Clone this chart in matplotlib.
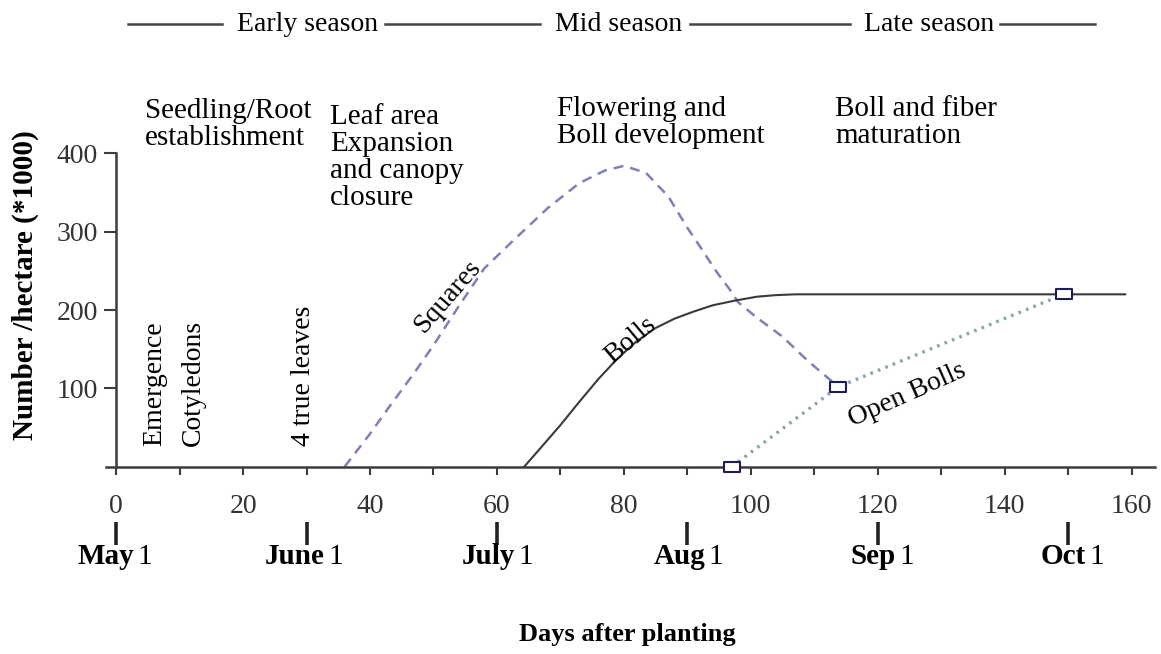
import matplotlib
matplotlib.use('Agg')
import matplotlib.pyplot as plt
import numpy as np
from matplotlib.path import Path

plt.rcParams['font.family'] = ['Liberation Serif', 'DejaVu Serif']

# ---------------- data ----------------
square_days = [36, 40, 43, 47, 50, 54, 58, 63, 68, 73, 77, 80, 83.5, 87, 90, 92, 94.5, 96.7, 98, 101, 105, 109, 113.8]
square_vals = [0, 42, 76, 120, 155, 205, 253, 292, 330, 362, 378, 384, 375, 345, 305, 281, 250, 226, 210, 190, 166, 135, 102]

boll_days = [64.3, 67, 70, 73, 76, 79, 82, 85, 88, 91, 94, 97.5, 101, 104, 107, 159]
boll_vals = [0, 25, 53, 83, 112, 138, 160, 177, 189, 198, 206, 212, 217, 219, 220, 220]

open_days = [97, 113.8, 149.3]
open_vals = [0, 102, 220]

x_ticks = [0, 20, 40, 60, 80, 100, 120, 140, 160]
y_ticks = [100, 200, 300, 400]

month_days = [0, 30, 60, 90, 120, 150]
month_names = ['May', 'June', 'July', 'Aug', 'Sep', 'Oct']

seasons = ['Early season', 'Mid season', 'Late season']

# -----------------------------------------------------------
fig = plt.figure(figsize=(11.61, 6.54), dpi=100)
ax = fig.add_axes([106 / 1161, (654 - 466.7) / 654, 1049 / 1161, 313.4 / 654])
ax.set_xlim(-1.6, 163.7)
ax.set_ylim(0, 400)

axis_col = '#3c3c3c'
for s in ['top', 'right']:
    ax.spines[s].set_visible(False)
ax.spines['left'].set_position(('data', 0))
ax.spines['left'].set_color(axis_col)
ax.spines['bottom'].set_color(axis_col)
ax.spines['left'].set_linewidth(1.8)
ax.spines['bottom'].set_linewidth(1.8)

ax.set_xticks(x_ticks)
ax.set_xticks(np.arange(10, 161, 20), minor=True)
ax.set_yticks(y_ticks)
ax.tick_params(axis='x', which='both', direction='out', length=6, width=1.5,
               color=axis_col, pad=14, labelsize=20)
ax.tick_params(axis='y', direction='out', length=9, width=1.5,
               color=axis_col, pad=4, labelsize=20)
for lab in ax.get_xticklabels() + ax.get_yticklabels():
    lab.set_color('#333333')

# curves
ax.plot(square_days, square_vals, color='#7f80b8', lw=1.8, linestyle=(0, (4, 2.8)), clip_on=False)
ax.plot(boll_days, boll_vals, color='#3a3a3a', lw=1.5, clip_on=False)
ax.plot(open_days, open_vals, color='#86a8a2', lw=2.4, linestyle=(0, (0.8, 1.6)), clip_on=False)

rect = Path([(-1.5, -1), (1.5, -1), (1.5, 1), (-1.5, 1), (-1.5, -1)],
            [Path.MOVETO, Path.LINETO, Path.LINETO, Path.LINETO, Path.CLOSEPOLY])
ax.plot(open_days, open_vals, linestyle='none', marker=rect, markersize=11,
        markerfacecolor='white', markeredgecolor='#1c1c5a', markeredgewidth=1.5,
        clip_on=False, zorder=5)

# curve labels
ax.text(52.3, 217, 'Squares', rotation=49, fontsize=20, ha='center', va='center')
ax.text(81.0, 162, 'Bolls', rotation=40, fontsize=20, ha='center', va='center')
ax.text(124.6, 91, 'Open Bolls', rotation=24, fontsize=20, ha='center', va='center')

# events near the bottom
ax.text(6.0, 26, 'Emergence', rotation=90, fontsize=20, ha='center', va='bottom')
ax.text(12.2, 26, 'Cotyledons', rotation=90, fontsize=20, ha='center', va='bottom')
ax.text(29.5, 26, '4 true leaves', rotation=90, fontsize=20, ha='center', va='bottom')

# growth stages
stage_kw = dict(fontsize=21, ha='left', va='top', linespacing=1.05, clip_on=False)
ax.text(4.6, 471, 'Seedling/Root\nestablishment', **stage_kw)
ax.text(33.7, 463, 'Leaf area\nExpansion\nand canopy\nclosure', **stage_kw)
ax.text(69.5, 473, 'Flowering and\nBoll development', **stage_kw)
ax.text(113.3, 473, 'Boll and fiber\nmaturation', **stage_kw)

# season header
hy = 565
seg_x = [(1.9, 16.7), (42.4, 66.8), (90.4, 115.6), (139.3, 154.2)]
for x0, x1 in seg_x:
    ax.plot([x0, x1], [hy, hy], color='#444444', lw=1.8, clip_on=False)
for name, xc in zip(seasons, [30.2, 79.2, 128.1]):
    ax.text(xc, hy, name, fontsize=20, ha='center', va='center', clip_on=False)

# month marks below the axis
for d, m in zip(month_days, month_names):
    ax.plot([d, d], [-70, -100], color='#222222', lw=2.6, clip_on=False, solid_capstyle='butt')
    ax.text(d + 2.8, -115, m, fontsize=21, fontweight='bold', ha='right', va='center', clip_on=False)
    ax.text(d + 3.4, -115, '1', fontsize=21, ha='left', va='center', clip_on=False)

fig.text(25 / 1161, 1 - 285 / 654, 'Number /hectare (*1000)', rotation=90,
         fontsize=21, fontweight='bold', ha='center', va='center')
fig.text(627 / 1161, 1 - 635 / 654, 'Days after planting', fontsize=19,
         fontweight='bold', ha='center', va='center')

fig.savefig('out.png', dpi=100, facecolor='white')
